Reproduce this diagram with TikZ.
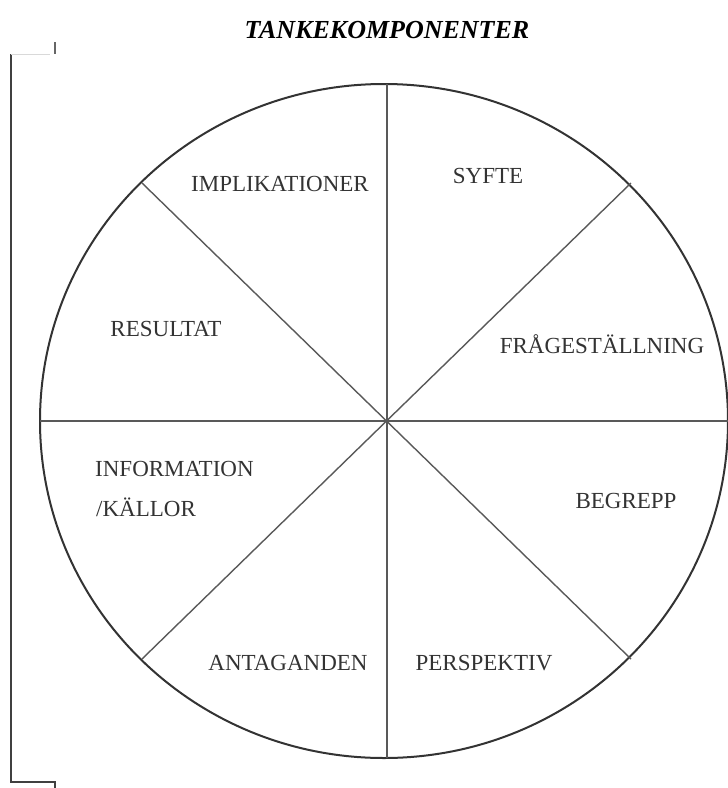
\documentclass[tikz,border=0pt]{standalone}
\usepackage{fontspec}
\setmainfont{Liberation Serif}
\usetikzlibrary{calc}

\tikzset{
  lbl/.style={font=\fontsize{23}{28}\selectfont, text=black!80, inner sep=0pt, anchor=base},
  rim/.style={line width=2pt, draw=black!80},
  spoke/.style={line width=1.4pt, draw=black!65}
}

\begin{document}
\begin{tikzpicture}[x=1pt, y=-1pt]

\useasboundingbox (0,0) rectangle (728,788);

% Define centre of the wheel and ends of the spokes
\coordinate (O) at (387, 421);
\coordinate (N) at (387, 84);
\coordinate (S) at (387, 758);
\coordinate (W) at (40, 421);
\coordinate (E) at (728, 421);
\coordinate (NW) at (142, 183);
\coordinate (NE) at (631, 183);
\coordinate (SW) at (142, 659);
\coordinate (SE) at (631, 659);

% Draw the wheel
\draw[rim] (384, 421) ellipse [x radius=344, y radius=337];

% Draw the spokes through the centre
\draw[spoke] (N) -- (S);
\draw[spoke] (W) -- (E);
\draw[spoke] (NW) -- (SE);
\draw[spoke] (NE) -- (SW);

% Bracket on the left side
\draw[line width=2pt, draw=black!75] (11, 54) -- (11, 782) -- (55, 782) -- (55, 788);
\draw[line width=1pt, draw=black!15] (11, 54) -- (50, 54);
\draw[line width=2pt, draw=black!60] (55, 42) -- (55, 54);

% Title
\node[font=\fontsize{26}{30}\selectfont\bfseries\itshape, inner sep=0pt, anchor=base] (title) at (387, 38) {TANKEKOMPONENTER};

% Labels of the sectors
\node[lbl] (syfte) at (488, 183) {SYFTE};
\node[lbl] (impl) at (280, 191) {IMPLIKATIONER};
\node[lbl] (resultat) at (166, 336) {RESULTAT};
\node[lbl] (fraga) at (602, 353) {FRÅGESTÄLLNING};
\node[lbl, anchor=base west] (info) at (95, 476) {INFORMATION};
\node[lbl, anchor=base west] (kallor) at (96, 516) {/KÄLLOR};
\node[lbl] (begrepp) at (626, 508) {BEGREPP};
\node[lbl] (antag) at (288, 670) {ANTAGANDEN};
\node[lbl] (persp) at (484, 670) {PERSPEKTIV};

\end{tikzpicture}
\end{document}
